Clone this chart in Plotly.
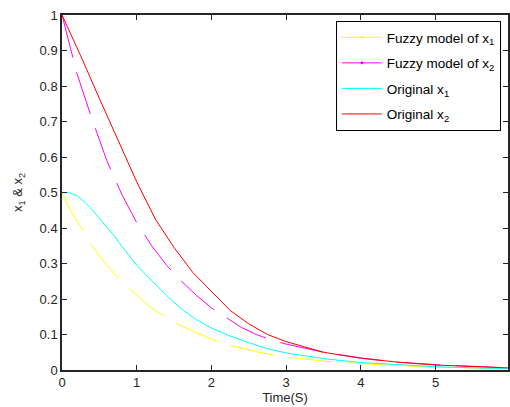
import plotly.graph_objects as go

# Time samples (s)
t_red = [0, 0.25, 0.5, 0.75, 1.0, 1.25, 1.5, 1.75, 2.0, 2.25, 2.5, 2.75, 3.0, 3.25, 3.5, 4.0, 4.5, 5.0, 5.5, 5.97]
x2_orig = [1.0, 0.885, 0.765, 0.645, 0.53, 0.425, 0.345, 0.275, 0.22, 0.168, 0.13, 0.10, 0.08, 0.065, 0.05, 0.033, 0.022, 0.014, 0.009, 0.006]

t_mag = [0, 0.2, 0.4, 0.6, 0.8, 1.0, 1.2, 1.4, 1.6, 1.8, 2.0, 2.2, 2.4, 2.6, 2.8, 3.0, 3.5, 4.0, 4.5, 5.0, 5.5, 5.97]
x2_fuzzy = [1.0, 0.835, 0.708, 0.59, 0.495, 0.415, 0.35, 0.295, 0.25, 0.21, 0.175, 0.148, 0.12, 0.10, 0.085, 0.073, 0.05, 0.034, 0.022, 0.015, 0.01, 0.006]

t_cyan = [0, 0.1, 0.2, 0.3, 0.4, 0.5, 0.6, 0.7, 0.8, 0.9, 1.0, 1.2, 1.4, 1.6, 1.8, 2.0, 2.25, 2.5, 2.75, 3.0, 3.5, 4.0, 4.5, 5.0, 5.5, 5.97]
x1_orig = [0.5, 0.499, 0.491, 0.474, 0.452, 0.428, 0.404, 0.378, 0.349, 0.321, 0.295, 0.252, 0.21, 0.172, 0.142, 0.118, 0.096, 0.077, 0.06, 0.048, 0.032, 0.021, 0.014, 0.009, 0.006, 0.004]

t_yel = [0, 0.1, 0.2, 0.3, 0.4, 0.6, 0.8, 1.0, 1.2, 1.4, 1.6, 1.8, 2.0, 2.2, 2.4, 2.6, 2.8, 3.0, 3.5, 4.0, 4.5, 5.0, 5.5, 5.97]
x1_fuzzy = [0.5, 0.455, 0.42, 0.388, 0.35, 0.295, 0.248, 0.21, 0.174, 0.148, 0.124, 0.105, 0.087, 0.072, 0.061, 0.052, 0.043, 0.037, 0.025, 0.018, 0.012, 0.008, 0.005, 0.003]

x_ticks = [0, 1, 2, 3, 4, 5]
y_ticks = [0, 0.1, 0.2, 0.3, 0.4, 0.5, 0.6, 0.7, 0.8, 0.9, 1.0]
y_tick_text = ["0", "0.1", "0.2", "0.3", "0.4", "0.5", "0.6", "0.7", "0.8", "0.9", "1"]

names = ["Fuzzy model of x<sub>1</sub>", "Fuzzy model of x<sub>2</sub>",
         "Original x<sub>1</sub>", "Original x<sub>2</sub>"]
colors = ["#ffff00", "#ff00ff", "#00ffff", "#ff0000"]

FONT = "Liberation Sans, Arial, sans-serif"
DASH = "44px,15px"

fig = go.Figure()
series = [(t_yel, x1_fuzzy, True), (t_mag, x2_fuzzy, True), (t_cyan, x1_orig, False), (t_red, x2_orig, False)]
for (tx, ty, fuzzy), name, col in zip(series, names, colors):
    fig.add_trace(go.Scatter(x=tx, y=ty, mode="lines", name=name, showlegend=False,
                             line=dict(color=col, width=1, dash=DASH if fuzzy else "solid"),
                             legendgroup=name, hoverinfo="skip"))
# legend entries (fuzzy entries carry the small point marker as in the original)
for (tx, ty, fuzzy), name, col in zip(series, names, colors):
    fig.add_trace(go.Scatter(x=[None], y=[None], mode="lines+markers" if fuzzy else "lines", name=name,
                             line=dict(color=col, width=1), marker=dict(size=3, color=col),
                             legendgroup=name))

axis_common = dict(showline=True, linecolor="#262626", linewidth=1.5, mirror="ticks",
                   ticks="inside", ticklen=5, tickcolor="#262626", showgrid=False, zeroline=False,
                   tickfont=dict(family=FONT, size=13, color="#262626"))

fig.update_layout(
    width=510, height=407,
    margin=dict(l=62, r=0, t=15, b=37),
    paper_bgcolor="white", plot_bgcolor="white",
    font=dict(family=FONT, size=13, color="#262626"),
    xaxis=dict(range=[0, 5.97], tickvals=x_ticks,
               title=dict(text="Time(S)", standoff=3, font=dict(family=FONT, size=13)),
               **axis_common),
    yaxis=dict(range=[0, 1], tickvals=y_ticks, ticktext=y_tick_text,
               title=dict(text="x<sub>1</sub> & x<sub>2</sub>", standoff=14, font=dict(family=FONT, size=13)),
               **axis_common),
    legend=dict(x=0.614, y=0.983, xanchor="left", yanchor="top",
                bgcolor="white", bordercolor="black", borderwidth=1,
                font=dict(family=FONT, size=13.5, color="black"),
                itemwidth=40, tracegroupgap=5),
    showlegend=True,
)

fig.write_html("out.html", config={"displayModeBar": False},
               post_script="document.body.style.margin='0';")
